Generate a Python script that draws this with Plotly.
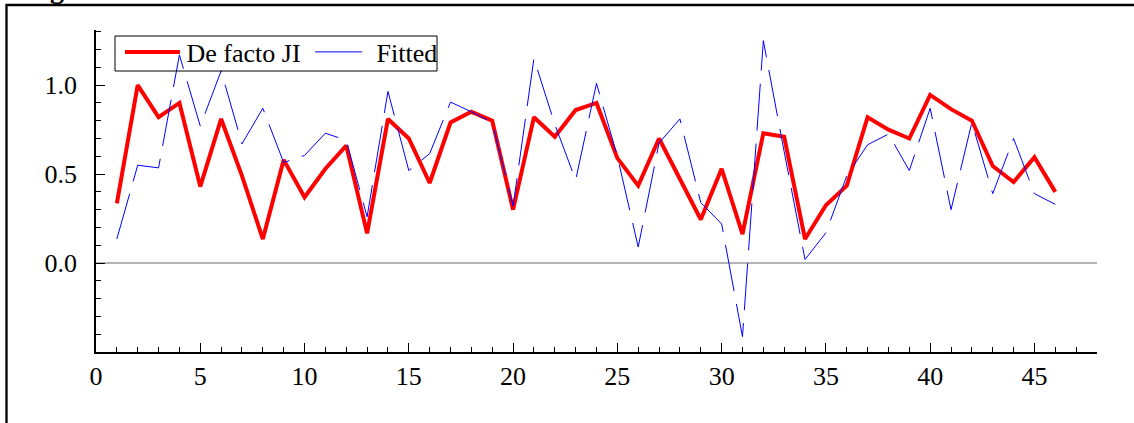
import plotly.graph_objects as go

periods = list(range(1, 47))
de_facto_ji = [0.335, 1.00, 0.82, 0.90, 0.43, 0.81, 0.49, 0.135, 0.58, 0.37,
               0.53, 0.66, 0.167, 0.81, 0.70, 0.45, 0.79, 0.85, 0.80, 0.30,
               0.82, 0.71, 0.86, 0.90, 0.59, 0.435, 0.70, 0.475, 0.245, 0.53,
               0.163, 0.73, 0.71, 0.135, 0.325, 0.435, 0.82, 0.75, 0.70, 0.945,
               0.865, 0.80, 0.545, 0.455, 0.595, 0.40]
fitted = [0.135, 0.55, 0.535, 1.17, 0.77, 1.08, 0.67, 0.87, 0.565, 0.605,
          0.73, 0.69, 0.26, 0.965, 0.52, 0.615, 0.905, 0.85, 0.79, 0.32,
          1.15, 0.78, 0.466, 1.01, 0.60, 0.09, 0.675, 0.81, 0.34, 0.22,
          -0.414, 1.25, 0.625, 0.02, 0.17, 0.49, 0.665, 0.725, 0.52, 0.87,
          0.30, 0.79, 0.39, 0.70, 0.39, 0.33]

x_ticks = list(range(0, 50, 5))
y_ticks = [0.0, 0.5, 1.0]
y_tick_labels = ["0.0", "0.5", "1.0"]

FONT = "Liberation Serif"

# plot area in page pixels: x 96..1097, y 30..352
L, R, T, B = 96, 1097, 30, 352
W, H = 1134, 423


def px_x(p):
    return (p - L) / (R - L)


def px_y(p):
    return (B - p) / (B - T)


fig = go.Figure()
fig.add_trace(go.Scatter(x=periods, y=de_facto_ji, mode="lines",
                         name="<span style='font-size:6px'> </span>De facto JI",
                         line=dict(color="#ff0000", width=4)))
fig.add_trace(go.Scatter(x=periods, y=fitted, mode="lines",
                         name="<span style='font-size:6px'> </span>Fitted",
                         line=dict(color="#0000ff", width=1, dash="47px,13px")))

fig.update_layout(
    width=W, height=H,
    margin=dict(l=L, r=W - R, t=T, b=H - B),
    paper_bgcolor="white", plot_bgcolor="white",
    font=dict(family=FONT, size=26, color="black"),
    showlegend=True,
    legend=dict(orientation="h", x=px_x(120), y=px_y(52), xanchor="left", yanchor="middle",
                bgcolor="rgba(0,0,0,0)", borderwidth=0,
                font=dict(family=FONT, size=26, color="black"),
                itemwidth=55, tracegroupgap=0,
                entrywidth=120, entrywidthmode="pixels"),
    xaxis=dict(range=[0, 48], tickmode="array", tickvals=x_ticks,
               ticks="inside", ticklen=9, tickwidth=1, tickcolor="black",
               showline=True, linecolor="black", linewidth=1.5,
               showgrid=False, zeroline=False,
               minor=dict(tickmode="linear", tick0=0, dtick=1, ticks="inside",
                          ticklen=5, tickcolor="black", showgrid=False),
               tickfont=dict(family=FONT, size=26)),
    yaxis=dict(range=[-0.5, 1.31], tickmode="array", tickvals=y_ticks,
               ticktext=y_tick_labels,
               ticks="inside", ticklen=9, tickwidth=1, tickcolor="black",
               showline=True, linecolor="black", linewidth=1.5,
               showgrid=False, zeroline=True, zerolinecolor="#b4b4b4",
               zerolinewidth=1.5,
               minor=dict(tickmode="linear", tick0=0, dtick=0.1, ticks="inside",
                          ticklen=5, tickcolor="black", showgrid=False),
               ticklabelstandoff=12,
               tickfont=dict(family=FONT, size=26)),
)

# legend border box
fig.add_shape(type="rect", xref="paper", yref="paper",
              x0=px_x(115), x1=px_x(437), y0=px_y(71), y1=px_y(36),
              line=dict(color="black", width=1), layer="above")

# outer frame (partially visible)
fig.add_shape(type="rect", xref="paper", yref="paper",
              x0=px_x(6.5), x1=px_x(1150), y0=px_y(440), y1=px_y(5),
              line=dict(color="black", width=2.3), layer="above")

# clipped heading glyph at the top-left
fig.add_annotation(text="<b>g</b>", xref="paper", yref="paper",
                   x=px_x(57), y=px_y(3), xanchor="center", yanchor="bottom",
                   yshift=-3, showarrow=False,
                   font=dict(family=FONT, size=28, color="black"))

fig.write_html("out.html", config={"displayModeBar": False},
               post_script="document.body.style.margin='0';")
